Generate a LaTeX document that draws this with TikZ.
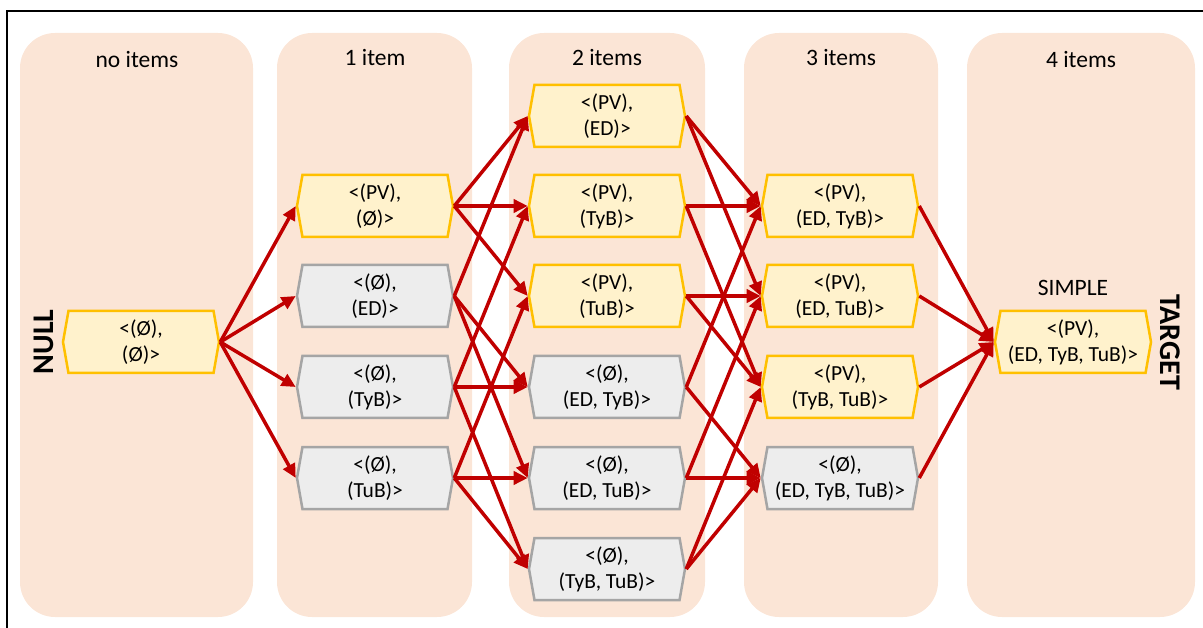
\documentclass[tikz,border=0pt]{standalone}
\usepackage{fontspec}
\setmainfont{Carlito}
\usetikzlibrary{shapes.symbols, arrows.meta}
\definecolor{lanebg}{HTML}{FBE5D6}
\definecolor{selfill}{HTML}{FFF2CC}
\definecolor{selline}{HTML}{FFC000}
\definecolor{othfill}{HTML}{EDEDED}
\definecolor{othline}{HTML}{A5A5A5}
\definecolor{movered}{HTML}{C00000}
\tikzset{
  lane/.style={fill=lanebg, rounded corners=35pt},
  state/.style={shape=signal, signal to=east and west, signal pointer angle=160,
    minimum width=156pt, minimum height=62pt, inner sep=0pt, line width=2.5pt,
    align=center, font=\fontsize{21.5}{26}\selectfont},
  sel/.style={state, draw=selline, fill=selfill},
  oth/.style={state, draw=othline, fill=othfill},
  move/.style={draw=movered, line width=3.5pt, -{Triangle[length=14pt,width=13pt]}},
  head/.style={font=\fontsize{23.5}{28}\selectfont},
  side/.style={font=\fontsize{30}{30}\selectfont\bfseries},
}

\begin{document}
\begin{tikzpicture}[x=1pt, y=-1pt]
\useasboundingbox (0,0) rectangle (1203,628);
\draw[line width=1.5pt] (1203,11) -- (7,11) -- (7,628);

% one lane per number of items
\foreach \l/\r in {20/253, 277/472, 509/705, 744/938, 967/1195}
  \fill[lane] (\l,33) rectangle (\r,617);
\node[head] (h0) at (137,60) {no items};
\node[head] (h1) at (375,58) {1 item};
\node[head] (h2) at (607,58) {2 items};
\node[head] (h3) at (841,58) {3 items};
\node[head] (h4) at (1081,60) {4 items};

\node[side, rotate=90] (nulllab) at (44,342) {NULL};
\node[side, rotate=-90] (targetlab) at (1170,342) {TARGET};

% states
\node[sel] (null) at (141,342) {<(Ø),\\(Ø)>};

\node[sel] (pv)  at (375,206) {<(PV),\\(Ø)>};
\node[oth] (ed)  at (375,296) {<(Ø),\\(ED)>};
\node[oth] (tyb) at (375,387) {<(Ø),\\(TyB)>};
\node[oth] (tub) at (375,478) {<(Ø),\\(TuB)>};

\node[sel] (pv-ed)   at (607,116) {<(PV),\\(ED)>};
\node[sel] (pv-tyb)  at (607,206) {<(PV),\\(TyB)>};
\node[sel] (pv-tub)  at (607,296) {<(PV),\\(TuB)>};
\node[oth] (ed-tyb)  at (607,387) {<(Ø),\\(ED, TyB)>};
\node[oth] (ed-tub)  at (607,478) {<(Ø),\\(ED, TuB)>};
\node[oth] (tyb-tub) at (607,569) {<(Ø),\\(TyB, TuB)>};

\node[sel] (pv-ed-tyb)  at (840,206) {<(PV),\\(ED, TyB)>};
\node[sel] (pv-ed-tub)  at (840,296) {<(PV),\\(ED, TuB)>};
\node[sel] (pv-tyb-tub) at (840,387) {<(PV),\\(TyB, TuB)>};
\node[oth] (ed-tyb-tub) at (840,478) {<(Ø),\\(ED, TyB, TuB)>};

\node[sel] (target) at (1073,342) {<(PV),\\(ED, TyB, TuB)>};
\node[head] (simple) at (1073,288) {SIMPLE};

% moves
\foreach \t in {pv, ed, tyb, tub}
  \draw[move] (null.east) -- (\t.west);
\foreach \s/\t in {pv/pv-ed, pv/pv-tyb, pv/pv-tub, ed/pv-ed, ed/ed-tyb, ed/ed-tub,
    tyb/pv-tyb, tyb/ed-tyb, tyb/tyb-tub, tub/pv-tub, tub/ed-tub, tub/tyb-tub}
  \draw[move] (\s.east) -- (\t.west);
\foreach \s/\t in {pv-ed/pv-ed-tyb, pv-ed/pv-ed-tub, pv-tyb/pv-ed-tyb, pv-tyb/pv-tyb-tub,
    pv-tub/pv-ed-tub, pv-tub/pv-tyb-tub, ed-tyb/pv-ed-tyb, ed-tyb/ed-tyb-tub,
    ed-tub/pv-ed-tub, ed-tub/ed-tyb-tub, tyb-tub/pv-tyb-tub, tyb-tub/ed-tyb-tub}
  \draw[move] (\s.east) -- (\t.west);
\foreach \s in {pv-ed-tyb, pv-ed-tub, pv-tyb-tub, ed-tyb-tub}
  \draw[move] (\s.east) -- (target.west);
\end{tikzpicture}
\end{document}
